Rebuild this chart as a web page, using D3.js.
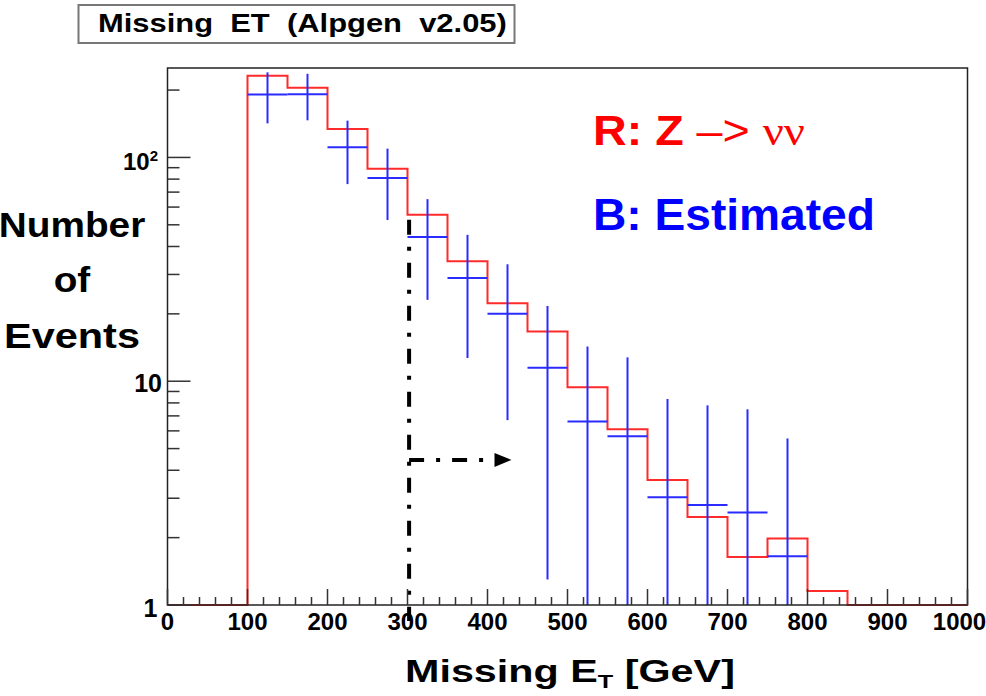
<!DOCTYPE html>
<html lang="en">
<head>
<meta charset="UTF-8">
<title>Missing ET (Alpgen v2.05)</title>
<script src="https://d3js.org/d3.v7.min.js"></script>
<style>
  body { margin: 0; background: #fff; }
  svg { display: block; font-family: "Liberation Sans", Arial, sans-serif; font-weight: bold; }
</style>
</head>
<body>
<div id="chart"></div>
<script>
// 50 GeV bins from 0 to 1000
const binEdges = d3.range(0, 1001, 50);
// R: Z -> nu nu, content of each bin (0 = empty bin)
const zNuNu = [0, 0, 232, 205, 134, 89, 55.5, 34.4, 22.3, 16.7, 9.4, 6.1, 3.62, 2.47, 1.64, 1.98, 1.155, 0, 0, 0];
// B: estimated, bin centres, contents and errors
const estCenters = [125, 175, 225, 275, 325, 375, 425, 475, 525, 575, 625, 675, 725, 775];
const estValues = [191, 191.5, 111, 81, 44.1, 28.9, 20.0, 11.5, 6.6, 5.68, 3.03, 2.80, 2.59, 1.65];
const estErrors = [49, 45, 35, 28.5, 21, 16.2, 13.3, 10.2, 7.7, 7.1, 5.3, 5.0, 4.9, 3.9];
const xTicks = d3.range(0, 1001, 100);
const yTicks = [1, 10, 100];
// cut annotation: ET > 300 GeV
const cutX = 302, cutTop = 52.7, arrowY = 4.45, arrowEnd = 430;

const width = 986, height = 696;
const margin = { top: 68, right: 18.5, bottom: 91, left: 167.5 };
const binWidth = 50;

const svg = d3.select("#chart").append("svg")
    .attr("width", width)
    .attr("height", height)
    .attr("viewBox", [0, 0, width, height]);

const x = d3.scaleLinear().domain([0, 1000]).range([margin.left, width - margin.right]);
const y = d3.scaleLog().domain([1, 251]).range([height - margin.bottom, margin.top]);
const yc = v => y(Math.max(v, 1)); // empty or negative -> bottom of frame

// stretch a text horizontally so that it spans the width seen in the picture
function fit(sel, w) {
    const node = sel.node();
    const b = node.getBBox();
    const ax = sel.attr("text-anchor") === "middle" ? b.x + b.width / 2 : b.x;
    const k = w / b.width;
    sel.attr("transform", `translate(${ax},0) scale(${k},1) translate(${-ax},0)`);
    return sel;
}

// frame background
svg.append("rect")
    .attr("x", x(0)).attr("y", y(251))
    .attr("width", x(1000) - x(0)).attr("height", y(1) - y(251))
    .attr("fill", "#fff");

// red histogram (step line)
const bins = zNuNu.map((v, i) => ({ x0: binEdges[i], x1: binEdges[i + 1], v }));
const stepPts = [[x(0), yc(0)]];
bins.forEach(b => {
    stepPts.push([x(b.x0), yc(b.v)]);
    stepPts.push([x(b.x1), yc(b.v)]);
});
svg.append("path")
    .attr("d", d3.line()(stepPts))
    .attr("fill", "none")
    .attr("stroke", "#ff2a2a")
    .attr("stroke-width", 2);

// blue crosses
const est = estCenters.map((c, i) => ({ c, v: estValues[i], e: estErrors[i] }));
const cross = svg.append("g")
    .attr("stroke", "#2b2bff")
    .attr("stroke-width", 2);
cross.selectAll(".h").data(est).join("line")
    .attr("x1", d => x(d.c - binWidth / 2)).attr("x2", d => x(d.c + binWidth / 2))
    .attr("y1", d => y(d.v)).attr("y2", d => y(d.v));
cross.selectAll(".v").data(est).join("line")
    .attr("x1", d => x(d.c)).attr("x2", d => x(d.c))
    .attr("y1", d => yc(d.v + d.e)).attr("y2", d => yc(d.v - d.e));

// cut annotation
const dash = "15,12,4,12";
svg.append("line")
    .attr("x1", x(cutX)).attr("x2", x(cutX))
    .attr("y1", y(cutTop)).attr("y2", y(1) + 16)
    .attr("stroke", "#000").attr("stroke-width", 4)
    .attr("stroke-dasharray", dash);
svg.append("line")
    .attr("x1", x(cutX)).attr("x2", x(arrowEnd) - 17)
    .attr("y1", y(arrowY)).attr("y2", y(arrowY))
    .attr("stroke", "#000").attr("stroke-width", 4)
    .attr("stroke-dasharray", dash);
svg.append("path")
    .attr("d", `M${x(arrowEnd) - 17},${y(arrowY) - 7}L${x(arrowEnd)},${y(arrowY)}L${x(arrowEnd) - 17},${y(arrowY) + 7}Z`)
    .attr("fill", "#000");

// frame
svg.append("rect")
    .attr("x", x(0)).attr("y", y(251))
    .attr("width", x(1000) - x(0)).attr("height", y(1) - y(251))
    .attr("fill", "none")
    .attr("stroke", "#222")
    .attr("stroke-width", 1.5);

// x ticks
const xg = svg.append("g").attr("stroke", "#333").attr("stroke-width", 1.5);
xg.selectAll("line").data(d3.range(0, 1001, 20)).join("line")
    .attr("x1", d => x(d)).attr("x2", d => x(d))
    .attr("y1", y(1)).attr("y2", d => y(1) - (d % 100 === 0 ? 16 : 8));
svg.append("g").selectAll("text").data(xTicks).join("text")
    .attr("x", d => x(d) - (d === 1000 ? 8 : 0))
    .attr("y", y(1) + 25)
    .attr("text-anchor", "middle")
    .attr("font-size", 24)
    .text(d => d);

// y ticks
const yMinor = [];
yTicks.forEach(dec => d3.range(2, 10).forEach(m => { if (m * dec <= 251) yMinor.push(m * dec); }));
const yg = svg.append("g").attr("stroke", "#333").attr("stroke-width", 1.5);
yg.selectAll(".maj").data(yTicks).join("line")
    .attr("x1", x(0)).attr("x2", x(0) + 23)
    .attr("y1", d => y(d)).attr("y2", d => y(d));
yg.selectAll(".min").data(yMinor).join("line")
    .attr("x1", x(0)).attr("x2", x(0) + 12)
    .attr("y1", d => y(d)).attr("y2", d => y(d));

const yl = svg.append("g").attr("font-size", 25).attr("text-anchor", "end");
yl.append("text").attr("x", x(0) - 10).attr("y", y(1) + 12).text("1");
yl.append("text").attr("x", x(0) - 5.5).attr("y", y(10) + 11).text("10");
const t100 = yl.append("text").attr("x", x(0) - 9.5).attr("y", y(100) + 13).attr("font-size", 24);
t100.append("tspan").text("10");
t100.append("tspan").attr("font-size", 15).attr("dy", -9).text("2");

// title box
svg.append("rect")
    .attr("x", 78.5).attr("y", 5).attr("width", 436).attr("height", 38)
    .attr("fill", "#fff").attr("stroke", "#777").attr("stroke-width", 2);
fit(svg.append("text")
    .attr("x", 98).attr("y", 32.5)
    .attr("font-size", 25)
    .style("white-space", "pre")
    .text("Missing  ET  (Alpgen  v2.05)"), 409);

// y axis title
const yTitle = [["Number", 237, 147], ["of", 292, 37], ["Events", 348, 136]];
yTitle.forEach(([s, by, w]) => {
    fit(svg.append("text")
        .attr("x", 72).attr("y", by)
        .attr("text-anchor", "middle")
        .attr("font-size", 35)
        .text(s), w);
});

// x axis title
const xt = svg.append("text")
    .attr("x", 405).attr("y", 682)
    .attr("font-size", 31)
    .style("white-space", "pre");
xt.append("tspan").text("Missing E");
xt.append("tspan").attr("font-size", 19).attr("dy", 6).text("T");
xt.append("tspan").attr("dy", -6).text(" [GeV]");
fit(xt, 330);

// legend
const lr = svg.append("text")
    .attr("x", 593).attr("y", 145)
    .attr("font-size", 42)
    .attr("fill", "#ff0000")
    .style("white-space", "pre");
lr.append("tspan").text("R: Z ");
lr.append("tspan").attr("font-weight", "normal").text("\u2013> ");
lr.append("tspan").attr("font-weight", "normal").attr("font-family", "'Liberation Serif', serif").text("\u03bd\u03bd");
fit(lr, 212);

fit(svg.append("text")
    .attr("x", 593).attr("y", 230)
    .attr("font-size", 45)
    .attr("fill", "#0000ff")
    .text("B: Estimated"), 282);
</script>
</body>
</html>
